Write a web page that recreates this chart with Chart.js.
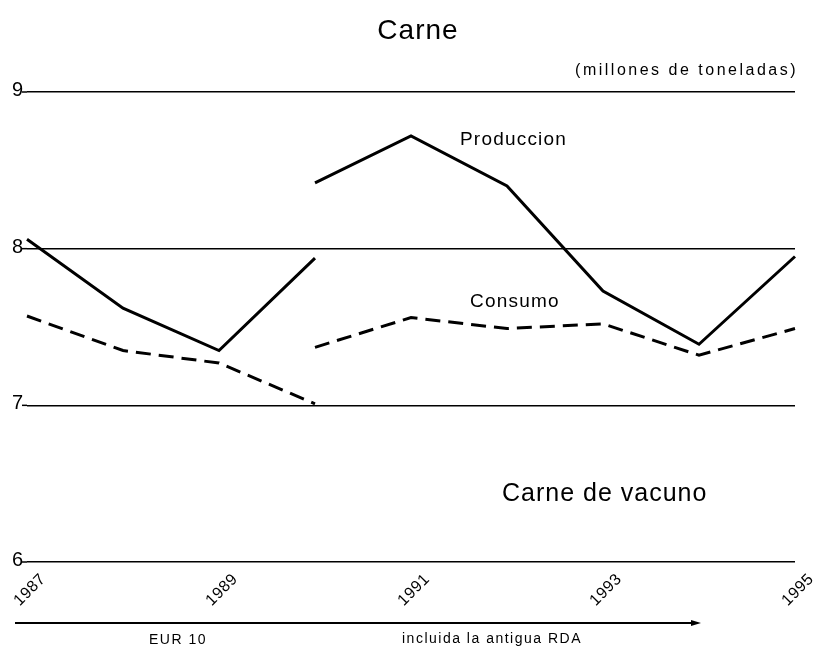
<!DOCTYPE html>
<html>
<head>
<meta charset="utf-8">
<script src="https://cdn.jsdelivr.net/npm/chart.js@4"></script>
<style>
  html, body { margin: 0; padding: 0; background: #fff; }
  #wrap { width: 815px; height: 659px; position: relative; }
</style>
</head>
<body>
<div id="wrap"><canvas id="carne_chart"></canvas></div>
<script>
// years on the x axis, only odd ones get a label
const years = ['1987', '1988', '1989', '1990', '1991', '1992', '1993', '1994', '1995'];
const shownYears = ['1987', '1989', '1991', '1993', '1995'];
const yTicks = [6, 7, 8, 9];

// EUR 10 (1987-1990) and incl. former GDR (1990-1995), millions of tonnes
const produccionEur10 = [8.06, 7.62, 7.35, 7.94, null, null, null, null, null];
const produccionRda   = [null, null, null, 8.42, 8.72, 8.40, 7.73, 7.39, 7.95];
const consumoEur10    = [7.57, 7.35, 7.27, 7.01, null, null, null, null, null];
const consumoRda      = [null, null, null, 7.37, 7.56, 7.49, 7.52, 7.32, 7.49];

const FONT = '"Liberation Sans", Arial, sans-serif';

const textPlugin = {
    id: 'textPlugin',
    afterDraw(chart) {
        const ctx = chart.ctx;
        const xs = chart.scales.x;
        const ys = chart.scales.y;
        ctx.save();
        ctx.fillStyle = '#000';
        ctx.strokeStyle = '#000';
        ctx.textBaseline = 'middle';

        // title
        ctx.font = '28px ' + FONT;
        ctx.letterSpacing = '1px';
        ctx.textAlign = 'center';
        ctx.fillText('Carne', 418, 31);

        // units
        ctx.font = '16px ' + FONT;
        ctx.letterSpacing = '2.5px';
        ctx.textAlign = 'right';
        ctx.fillText('(millones de toneladas)', 798, 71);

        // y labels
        ctx.font = '20px ' + FONT;
        ctx.letterSpacing = '0px';
        yTicks.forEach(v => {
            const y = ys.getPixelForValue(v);
            ctx.textAlign = 'right';
            ctx.textBaseline = 'alphabetic';
            ctx.fillText(String(v), 23, y + 4);
            ctx.lineWidth = 1.5;
            ctx.beginPath();
            ctx.moveTo(22, y);
            ctx.lineTo(xs.left, y);
            ctx.stroke();
        });

        // x labels, rotated and centred on the tick
        ctx.font = '16px ' + FONT;
        ctx.letterSpacing = '0.5px';
        shownYears.forEach(yr => {
            const x = xs.getPixelForValue(years.indexOf(yr));
            ctx.save();
            ctx.translate(x + 3, 590);
            ctx.rotate(-Math.PI / 4);
            ctx.textAlign = 'center';
            ctx.textBaseline = 'middle';
            ctx.fillText(yr, 0, 0);
            ctx.restore();
        });

        // series labels
        ctx.textBaseline = 'middle';
        ctx.font = '19px ' + FONT;
        ctx.letterSpacing = '1.2px';
        ctx.textAlign = 'left';
        ctx.fillText('Produccion', 460, 140);
        ctx.fillText('Consumo', 470, 302);
        ctx.font = '25px ' + FONT;
        ctx.letterSpacing = '1px';
        ctx.fillText('Carne de vacuno', 502, 494);

        // bottom arrow
        const arrowEnd = xs.getPixelForValue(7);
        const y0 = 623;
        ctx.lineWidth = 2;
        ctx.beginPath();
        ctx.moveTo(15, y0);
        ctx.lineTo(arrowEnd - 6, y0);
        ctx.stroke();
        ctx.beginPath();
        ctx.moveTo(arrowEnd + 2, y0);
        ctx.lineTo(arrowEnd - 8, y0 - 3);
        ctx.lineTo(arrowEnd - 8, y0 + 3);
        ctx.closePath();
        ctx.fill();

        ctx.font = '14px ' + FONT;
        ctx.letterSpacing = '1.5px';
        ctx.textAlign = 'center';
        ctx.fillText('EUR 10', 178, 640);
        ctx.fillText('incluida la antigua RDA', 492, 639);
        ctx.restore();
    }
};

const lineStyle = {
    borderColor: '#000',
    borderWidth: 3,
    pointRadius: 0,
    fill: false,
    tension: 0,
    spanGaps: false
};

const chartCtx = document.getElementById('carne_chart').getContext('2d');
const carneChart = new Chart(chartCtx, {
    type: 'line',
    data: {
        labels: years,
        datasets: [
            Object.assign({ label: 'Produccion EUR 10', data: produccionEur10 }, lineStyle),
            Object.assign({ label: 'Produccion con RDA', data: produccionRda }, lineStyle),
            Object.assign({ label: 'Consumo EUR 10', data: consumoEur10, borderDash: [15, 8] }, lineStyle),
            Object.assign({ label: 'Consumo con RDA', data: consumoRda, borderDash: [15, 8] }, lineStyle)
        ]
    },
    options: {
        responsive: true,
        maintainAspectRatio: false,
        animation: false,
        layout: { padding: { left: 27, right: 20, top: 92, bottom: 89 } },
        plugins: {
            legend: { display: false },
            tooltip: { enabled: false }
        },
        scales: {
            x: {
                offset: false,
                grid: { display: false },
                border: { display: false },
                ticks: { display: false }
            },
            y: {
                min: 6,
                max: 9,
                afterBuildTicks: (axis) => { axis.ticks = yTicks.map(v => ({ value: v })); },
                grid: { color: '#000', lineWidth: 1.5, drawTicks: false },
                border: { display: false },
                ticks: { display: false }
            }
        }
    },
    plugins: [textPlugin]
});
</script>
</body>
</html>
